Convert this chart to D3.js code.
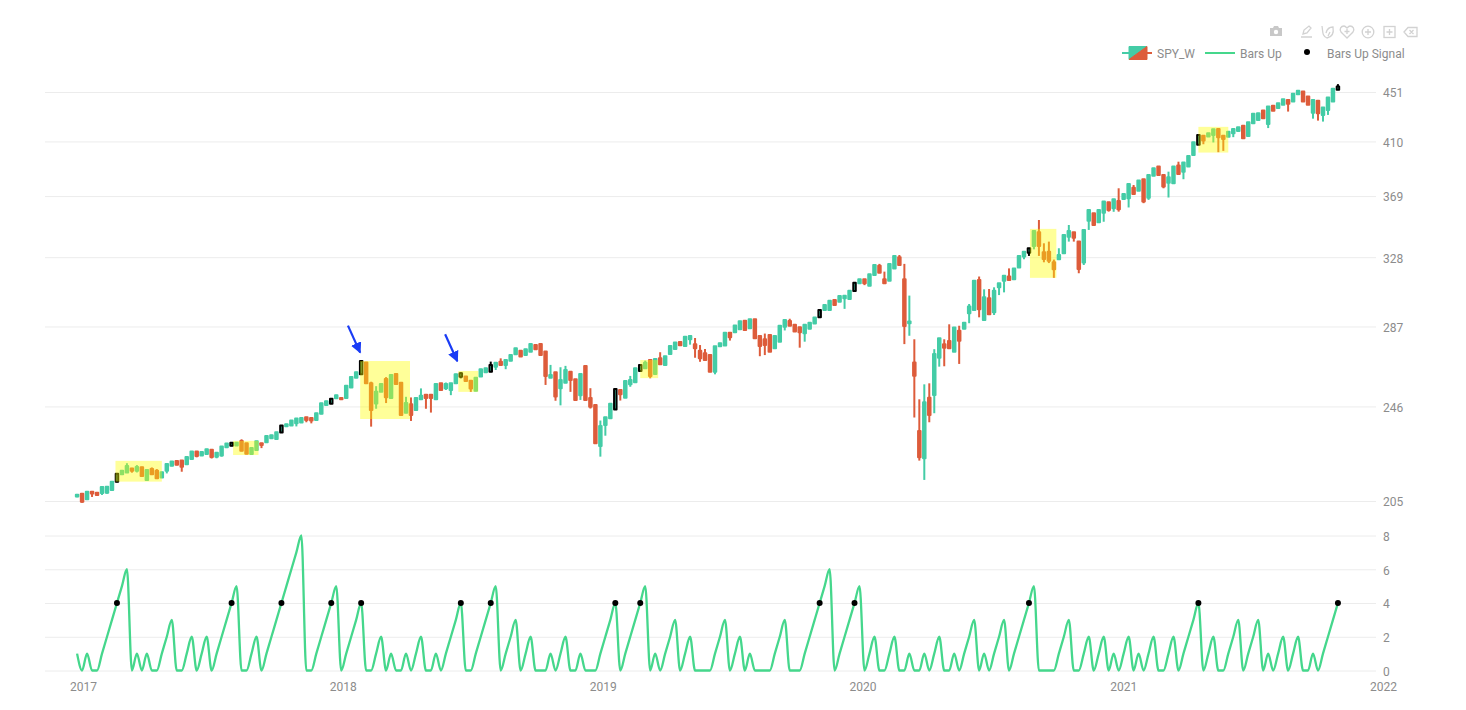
<!DOCTYPE html>
<meta charset="utf-8">
<script src="https://d3js.org/d3.v7.min.js"></script>
<style>
  body { margin: 0; background: #fff; }
  text { font-family: Roboto, sans-serif; font-size: 12px; fill: #8c8c8c; }
  .domain { display: none; }
</style>
<div id="chart"></div>
<script>

// weekly candles, first bar is the week of 2016-12-23
const firstWeek = new Date(2016, 11, 23);

const open = [206.8,207.9,205.7,208.7,208.3,208.2,208.3,209.4,212.7,215.8,
216.6,218.3,217.3,218.8,213.5,218,217.3,214.5,217.3,219.4,
221.4,221.6,220.1,222.3,225.5,223.8,224.4,226.3,223.3,223.8,
227.4,228,228.2,230.1,229.1,224.4,226.2,229.1,229.6,231.4,
231,233.9,236.8,237.1,238.2,238.5,240.9,240.6,239.7,242.5,
246.7,247.3,249.9,250,250,255.2,260,261.7,267.8,257.2,
247.4,253.1,259.3,250,261.9,257.5,243,247,244.3,249.4,
251.6,251.6,249.4,257.2,254.8,253.9,257.2,260.5,260.6,258.5,
253.6,260.6,262.8,263,265.6,268.1,266.4,268.6,272,273.9,
271.7,273.4,276.9,277.5,273.5,260,262.7,254.8,257.5,263,
259.2,251.4,266,250,246.7,227.9,237.4,240.5,244.6,253.9,
250.2,256.7,257.7,263.4,264.8,269,261.9,269.9,266.4,272.2,
274.8,278.5,276.4,280,277.3,273.9,272.5,271.6,263,276.2,
276.6,283.6,283.8,285.5,290.2,286,291,281.8,280,282.3,
275.2,278.7,286.9,290,287.9,286.6,283.3,285.7,288.7,292.1,
296.3,296.3,302,301,303,302.6,307.3,311.9,314.3,310.4,
316.9,322.7,314.3,313.5,321,328,314.3,288.8,267.8,234.6,
222.6,250.2,251.5,270.2,277.3,279.1,273.4,284.6,285.7,294.4,
296.3,313.9,290.6,303,295,309.5,313.5,316,314.3,321.5,
328.4,330.9,335.2,344.1,331.1,331.5,324.8,326.7,330.5,341.2,
344.1,338,324.6,351.9,357,350.8,357.4,364.7,360.5,365.6,
367,367.5,375,372.9,381.2,367.9,383.7,390.6,384.4,378.7,
378.3,391.4,386.8,390.6,399.5,407.3,414.6,413.9,415.2,420,
414.6,413.8,416.5,418.4,422.5,414.4,424.7,427.4,435.1,424.1,
439.1,437.2,440,444.2,442.8,449.1,451.4,447.1,433.4,443.4,
431.5,435.7,442.8,452.9];

const close = [207.5,204.7,208.7,208,207.4,210.6,210.7,212.8,216.1,217.3,
219.3,217.3,218.9,215.1,217.6,215.9,214.2,216.7,220.2,221.2,
219.8,219,223.1,225.5,223.6,225.3,226.5,223.1,225,227.7,
229,229.4,229.4,225.8,224.5,227,230,228.4,232.4,232.7,
234,237.1,237.7,239.4,240.3,240.6,239.7,239.4,242.8,247.5,
248.5,249.7,251.4,249.4,256,260.3,262.8,268.5,257.2,244.3,
253,256.9,250.4,261.4,256.9,242,247.6,242,250,251.1,
250,250,256.9,253.9,256.9,257.2,261.8,262.2,258.4,254.7,
260,264.3,264.8,266.4,267.6,266.4,269,271.6,275.2,270.8,
274.7,277.4,274.7,271.7,260.8,261.3,250.7,258.9,263.9,258.9,
249.1,261.9,249.1,245.9,229.1,236.9,240.9,247.3,254.4,251.9,
258.4,258.9,264.8,266.4,267.6,260.8,269.5,266.8,271,276.4,
278.2,276.8,281.4,281.8,275.2,269.9,269,263,276.2,277.9,
283.6,281.1,287.6,289.9,285.1,291,280.6,276.4,276.9,273.4,
281.8,287.4,290.6,287.4,284.2,283.8,287.9,289.1,292,296.3,
299.1,301.6,299.1,304.3,304.5,307.5,312.3,314.3,311.9,317.4,
323.1,318.3,311.9,323.8,328.8,323.1,287.3,289.7,261,223,
248,242,272.1,280.5,275.5,275.2,286.4,279.2,289.1,298.2,
313.5,296.7,303.6,293.8,307.5,311.9,316.5,313.9,321,328.8,
331.5,333.7,345,335.2,326.9,325.7,320.4,329.4,342.4,345,
340.6,320.6,345.7,359.3,349,359.3,365.1,359.3,366.8,359.8,
370.5,377.7,370.5,380.2,365.1,384.4,389.4,384.4,375.8,382.7,
390.6,385.1,393.6,398.7,409.4,415.2,410.7,416.5,419.8,413.3,
412,417.8,420,421.4,412.6,425.5,432.4,433,428.8,438.5,
434.9,441.4,444.8,440.8,449.4,452,442.8,440,444.2,432.9,
437.7,446.2,453.8,455.8];

const high = [207.8,208,209,209,208.5,210.8,210.9,213,216.3,217.5,
220.5,218.5,219.7,219,217.8,218.7,218,216.9,220.4,221.4,
221.6,221.8,223.3,225.7,225.7,225.5,226.7,226.5,225.2,227.9,
229.2,229.6,229.6,230.9,229.3,227.2,230.2,229.3,232.6,232.9,
234.2,237.3,237.9,239.6,240.5,240.8,241.1,240.8,243,247.7,
248.7,250,251.6,250.2,256.2,260.5,263,268.7,268,258,
255.8,257.3,260.3,261.6,262.1,257.7,250.6,250.3,250.2,254.7,
251.8,251.8,257.1,257.4,257.6,257.4,262,262.8,260.8,258.7,
260.2,264.5,265,268.2,267.8,269.9,269.2,271.8,275.4,274.1,
274.9,277.6,277.1,277.7,273.7,266.5,262.9,265.3,266,263.2,
259.4,262.1,266.2,254.8,246.9,239.4,241.1,247.5,254.6,254.1,
258.6,260.9,265,266.6,268.7,269.2,269.7,273.1,271.2,276.6,
278.4,278.7,281.6,282,280.7,276.9,274.8,271.8,276.4,278.1,
283.8,283.8,287.8,290.1,290.4,291.2,291.2,282,283.1,282.5,
282,287.6,290.8,291.3,288.1,286.8,288.1,289.3,292.2,296.5,
299.3,301.8,302.2,304.5,304.7,307.7,312.5,314.5,314.5,317.6,
323.3,323.8,319,324,329,329.4,323.8,304.6,280,249.4,
256.7,257.2,274.7,280.7,280,288.2,286.6,287.4,289.3,299.7,
313.7,316,308.3,308.5,309.5,312.1,316.7,321,321.2,329,
331.7,333.9,345.2,352.4,336.9,338,326.5,333.7,342.6,349,
344.3,338.2,345.9,359.5,357.2,359.5,365.3,364.9,367,374.6,
370.7,377.9,377,380.4,381.4,384.6,389.6,390.8,384.6,386.8,
390.8,394.3,393.8,398.9,409.6,415.4,414.8,416.7,420,420.2,
414.8,418,420.2,421.6,422.7,425.7,432.6,433.2,435.3,438.7,
439.3,441.6,445,444.4,449.6,452.2,451.6,447.3,444.4,443.6,
437.9,446.4,454,457.9];

const low = [206.5,204.3,205.5,206.6,207,207.4,207.9,209.2,212.5,215.6,
216.4,216.5,216.6,214.8,213.3,215.7,214,214.3,216.2,219.2,
219.6,216.9,219.9,222.1,223,223.6,224.2,222.5,222.6,223.3,
227.2,227.8,228,225.6,224.3,224.2,226,227,229.4,231.2,
230.8,233.7,236.6,236.9,236.7,238.3,238.6,238.1,239.5,242.3,
246.5,247.1,249.7,249.2,249.8,255,259.8,261.5,257,236.6,
244.9,252.9,247.6,249.8,256.7,241.8,242.8,239.2,244.1,249.2,
244.9,243.1,249.2,253.7,253.9,251.4,257,259.7,258.2,253,
253.4,260.4,262.6,262.8,263.9,266.2,264.3,268.4,271.8,270.6,
271.5,273.2,274.5,271.5,256.4,259.8,248.7,246.5,257.3,253,
248.9,249.1,248.9,245,228.9,223.3,232.5,240.3,244.4,248.8,
250,255.5,257.5,263.2,264.6,259.7,261.7,266.6,266.2,272,
274.6,276.6,276.2,277.1,270.2,268.1,268.8,262.8,261.7,276,
276.4,279.3,283.6,285.3,284.9,285.8,280.4,271,271.6,273.2,
275,278.5,284.8,287.2,284,275.5,278.7,285.5,288.5,291.9,
296.1,296.1,298.9,300.8,296.9,302.4,307.1,311.7,310.8,310.2,
316.7,318.1,311.7,313.3,320.8,322.9,277.4,281.9,240.8,221.6,
213.5,238.6,242.8,265.6,265.8,275,273.2,267,285.5,288.8,
296.1,292.1,290.4,293.6,293.4,304.9,306.5,313.7,314.1,321.3,
326.7,328.8,333,328.8,324.8,324.3,315.2,326.5,330.3,338,
338,318,323.1,345.7,348.8,350.6,351.2,358.1,358,358.1,
366.8,361,370.3,372.7,364,366.3,383.5,384.2,374.6,368,
378.1,384.9,381.2,390.4,399.3,407.1,407.8,413.7,409.2,401.6,
402.6,413.6,413.4,418.2,412.4,414.2,424.5,427.2,428.6,420.7,
434.7,437,439.8,434.3,442.6,448.9,442.6,439.8,428.4,426.8,
426,431.5,442.6,452.7];

// number of up bars in a row
const barsUp = [1,0,1,0,0,1,2,3,4,5,
6,0,1,0,1,0,0,1,2,3,
0,0,1,2,0,1,2,0,1,2,
3,4,5,0,0,1,2,0,1,2,
3,4,5,6,7,8,0,0,1,2,
3,4,5,0,1,2,3,4,0,0,
1,2,0,1,0,0,1,0,1,2,
0,0,1,0,1,2,3,4,0,0,
1,2,3,4,5,0,1,2,3,0,
1,2,0,0,0,1,0,1,2,0,
0,1,0,0,0,1,2,3,4,0,
1,2,3,4,5,0,1,0,1,2,
3,0,1,2,0,0,0,0,1,2,
3,0,1,2,0,1,0,0,0,0,
1,2,3,0,0,0,1,2,3,4,
5,6,0,1,2,3,4,5,0,1,
2,0,0,1,2,0,0,1,0,0,
1,0,1,2,0,0,1,0,1,2,
3,0,1,0,1,2,3,0,1,2,
3,4,5,0,0,0,0,1,2,3,
0,0,1,2,0,1,2,0,1,0,
1,2,0,1,0,1,2,0,0,1,
2,0,1,2,3,4,0,1,2,0,
0,1,2,3,0,1,2,3,0,1,
0,1,2,0,1,2,0,0,1,0,
1,2,3,4];

// weeks where the count hits 4
const signalWeeks = [8,31,41,51,57,77,83,108,113,149,156,191,225,253];

// highlighted stretches after a signal, in weeks and price
const boxStart = [7.7,31.3,56.8,76.5,113,191.2,225];
const boxEnd = [17,36.4,66.8,80.5,116.6,196.5,231];
const boxHigh = [221.5,230.2,268.5,263.4,269,346.4,421.7];
const boxLow = [212.8,224,240.1,253,259.8,315.2,401.3];

// arrow tips
const arrowWeek = [56.8,76.3];
const arrowPrice = [272.9,268.4];

const priceTicks = [205,246,287,328,369,410,451];
const countTicks = [0,2,4,6,8];
const yearTicks = [2017,2018,2019,2020,2021,2022];

const upColor = "#44cca6", downColor = "#dd5c3b", lineColor = "#45d78c", gridColor = "#ececec";

const svg = d3.select("#chart").append("svg")
  .attr("width", 1466)
  .attr("height", 710)
  .style("display", "block");

// scales
const x = d3.scaleTime()
  .domain([new Date(2017, 0, 1), new Date(2022, 0, 1)])
  .range([83, 1383]);
const weekDate = i => new Date(+firstWeek + i * 7 * 864e5);
const xWeek = i => x(weekDate(i)) + 0.5;

const y = d3.scaleLog().domain([205, 451]).range([501, 92]);
const yCount = d3.scaleLinear().domain([0, 8]).range([670.5, 535.5]);

// axes, gridlines are the long ticks
function priceAxis(g, scale, ticks) {
  g.attr("transform", "translate(1376,0)")
    .call(d3.axisRight(scale).tickValues(ticks).tickFormat(d3.format("d")).tickSize(0).tickPadding(7));
  g.selectAll(".tick line")
    .attr("x1", -1331).attr("x2", 0)
    .attr("stroke", gridColor);
  g.selectAll("text").attr("text-anchor", "start").attr("dy", "0.4em");
}
svg.append("g").call(priceAxis, y, priceTicks);
svg.append("g").call(priceAxis, yCount, countTicks);

const xAxis = svg.append("g")
  .attr("transform", "translate(0,680)")
  .call(d3.axisBottom(x)
    .tickValues(yearTicks.map(d => new Date(d, 0, 1)))
    .tickFormat(d3.timeFormat("%Y"))
    .tickSize(0).tickPadding(0));
xAxis.selectAll("text").attr("dy", "0.9em");

// candles
const candles = d3.range(open.length).map(i => ({
  i: i, o: open[i], h: high[i], l: low[i], c: close[i],
  signal: signalWeeks.includes(i)
}));

const candle = svg.append("g").selectAll("g")
  .data(candles)
  .enter().append("g");

const edge = d => d.signal ? "#000" : (d.c >= d.o ? upColor : downColor);

candle.append("line")
  .attr("x1", d => xWeek(d.i)).attr("x2", d => xWeek(d.i))
  .attr("y1", d => y(d.h)).attr("y2", d => y(d.l))
  .attr("stroke", edge)
  .attr("stroke-width", 2);

candle.append("rect")
  .attr("x", d => xWeek(d.i) - 1.25)
  .attr("width", 2.5)
  .attr("y", d => y(Math.max(d.o, d.c)))
  .attr("height", d => Math.abs(y(d.o) - y(d.c)))
  .attr("fill", d => d.c >= d.o ? upColor : downColor)
  .attr("stroke", edge)
  .attr("stroke-width", 2)
  .attr("stroke-linejoin", "round");

// yellow boxes go over the candles
svg.append("g").selectAll("rect")
  .data(boxStart)
  .enter().append("rect")
    .attr("x", (d, i) => xWeek(d))
    .attr("width", (d, i) => xWeek(boxEnd[i]) - xWeek(d))
    .attr("y", (d, i) => y(boxHigh[i]))
    .attr("height", (d, i) => y(boxLow[i]) - y(boxHigh[i]))
    .attr("fill", "#ffff00")
    .attr("opacity", 0.4);

// arrows
const arrowDef = svg.append("defs").append("marker")
  .attr("id", "head")
  .attr("viewBox", "0 0 10 10")
  .attr("refX", 9).attr("refY", 5)
  .attr("markerWidth", 5).attr("markerHeight", 5)
  .attr("markerUnits", "strokeWidth")
  .attr("orient", "auto");
arrowDef.append("path").attr("d", "M0,0L10,5L0,10z").attr("fill", "#1a3cf5");

svg.append("g").selectAll("line")
  .data(arrowWeek)
  .enter().append("line")
    .attr("x1", d => xWeek(d) - 12.2)
    .attr("y1", (d, i) => y(arrowPrice[i]) - 27)
    .attr("x2", d => xWeek(d))
    .attr("y2", (d, i) => y(arrowPrice[i]))
    .attr("stroke", "#1a3cf5")
    .attr("stroke-width", 2.2)
    .attr("marker-end", "url(#head)");

// bars up line
const barsLine = d3.line()
  .x((d, i) => xWeek(i))
  .y(d => yCount(d))
  .curve(d3.curveMonotoneX);

svg.append("path")
  .datum(barsUp)
  .attr("d", barsLine)
  .attr("fill", "none")
  .attr("stroke", lineColor)
  .attr("stroke-width", 2.3);

svg.append("g").selectAll("circle")
  .data(signalWeeks)
  .enter().append("circle")
    .attr("cx", d => xWeek(d))
    .attr("cy", d => yCount(barsUp[d]))
    .attr("r", 3)
    .attr("fill", "#000");

// legend
const legend = svg.append("g").attr("transform", "translate(0,53)");
legend.append("line").attr("x1", 1122).attr("x2", 1137).attr("y1", 0).attr("y2", 0)
  .attr("stroke", upColor).attr("stroke-width", 2);
legend.append("line").attr("x1", 1137).attr("x2", 1152).attr("y1", 0).attr("y2", 0)
  .attr("stroke", downColor).attr("stroke-width", 2);
legend.append("path").attr("d", "M1129,-6.5H1147L1129,6.5Z").attr("fill", upColor).attr("stroke", upColor);
legend.append("path").attr("d", "M1147,-6.5V6.5H1129Z").attr("fill", downColor).attr("stroke", downColor);
legend.append("text").attr("x", 1157).attr("y", 4.5).text("SPY_W");
legend.append("line").attr("x1", 1205).attr("x2", 1235).attr("y1", 0).attr("y2", 0)
  .attr("stroke", lineColor).attr("stroke-width", 2);
legend.append("text").attr("x", 1240).attr("y", 4.5).text("Bars Up");
legend.append("circle").attr("cx", 1307).attr("cy", -1).attr("r", 3).attr("fill", "#000");
legend.append("text").attr("x", 1327).attr("y", 4.5).text("Bars Up Signal");

// toolbar icons
const bar = svg.append("g")
  .attr("fill", "none")
  .attr("stroke", "#d2d2d2")
  .attr("stroke-width", 1.3);
bar.append("path").attr("d", "M1270,28h3l1,-2h4l1,2h3v8h-12z").attr("fill", "#c8c8c8").attr("stroke", "none");
bar.append("circle").attr("cx", 1276).attr("cy", 32).attr("r", 2.2).attr("fill", "#fff").attr("stroke", "none");
bar.append("path").attr("d", "M1301,37h11M1303,34l1,-4l5,-4l2,2l-4,5z");
bar.append("path").attr("d", "M1322,26c1,6 0,10 5,12c5,-1 7,-5 6,-11c-3,0 -6,2 -7,6M1328,36l2,-4");
bar.append("path").attr("d", "M1347,38l-6,-6c-2,-3 0,-6 3,-6c1,0 2,1 3,2c1,-1 2,-2 3,-2c3,0 5,3 3,6zM1347,29v5M1344.5,31.5h5");
bar.append("circle").attr("cx", 1368).attr("cy", 32).attr("r", 5.8);
bar.append("path").attr("d", "M1368,29v6M1365,32h6");
bar.append("rect").attr("x", 1384).attr("y", 26.5).attr("width", 11).attr("height", 11);
bar.append("path").attr("d", "M1389.5,29v6M1386.5,32h6");
bar.append("path").attr("d", "M1404,32l4,-4.5h9v9h-9zM1409.5,30l4,4M1413.5,30l-4,4");

</script>
